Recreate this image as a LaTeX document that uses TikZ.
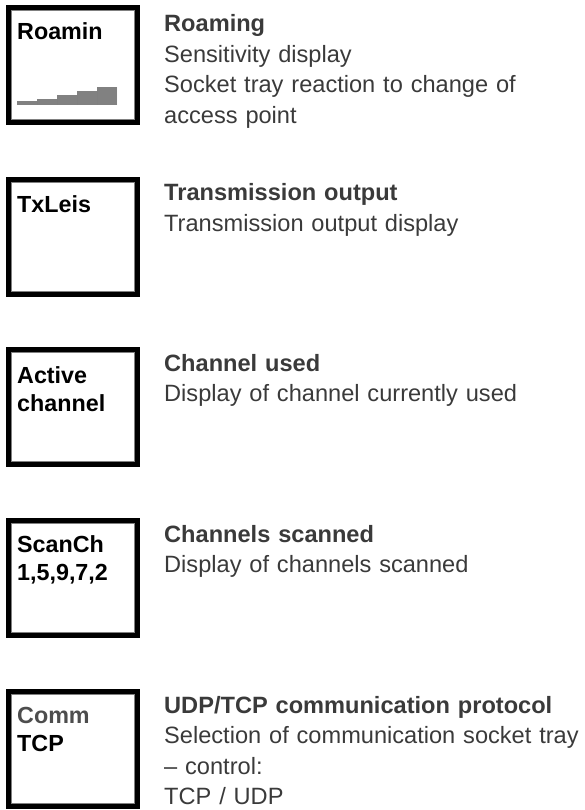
\documentclass[tikz,border=0pt]{standalone}
\usepackage{fontspec}
\setmainfont{Liberation Sans}
\usetikzlibrary{calc,patterns.meta}
\definecolor{textgray}{HTML}{3A3A3A}
\definecolor{commgray}{HTML}{4D4D4D}
\tikzstyle{screen} = [draw, line width=5pt, minimum width=129pt, minimum height=115pt, inner sep=0pt, outer sep=0pt]
\tikzstyle{rim} = [draw=gray, line width=1pt]
\tikzstyle{screentext} = [anchor=base west, inner sep=0pt, text width=115pt, align=left, font=\bfseries\fontsize{23.3}{28}\selectfont]
\tikzstyle{info} = [anchor=base west, inner sep=0pt, text width=440pt, align=left, text=textgray, font=\fontsize{23.6}{30.5}\selectfont]
\tikzstyle{bars} = [pattern={Dots[distance=2pt,radius=0.85pt]}]

\begin{document}
\begin{tikzpicture}[x=1pt,y=-1pt]
    \useasboundingbox (0,0) rectangle (584,810);
    % display boxes
    \draw (73,65) node[screen] (roam) {};
    \draw (73,237) node[screen] (txleis) {};
    \draw (73,407) node[screen] (active) {};
    \draw (73,578) node[screen] (scanch) {};
    \draw (73,749) node[screen] (comm) {};
    \foreach \b in {roam,txleis,active,scanch,comm}
        \draw [rim] ($(\b.south west)+(3,-3)$) rectangle ($(\b.north east)+(-3,3)$);
    % what each display shows
    \node[screentext] (roam-lbl) at (17,40) {Roamin};
    \node[screentext] (txleis-lbl) at (17,212) {TxLeis};
    \node[screentext] (active-lbl) at (17,383) {Active\\channel};
    \node[screentext] (scanch-lbl) at (17,552) {ScanCh\\1,5,9,7,2};
    \node[screentext] (comm-lbl) at (17,723) {\textcolor{commgray}{Comm}\\TCP};
    % signal strength steps
    \foreach \xa/\ytop in {17/102, 37/99, 57/95, 77/91, 97/88}
        \fill [bars] (\xa,105) rectangle (\xa+20,\ytop);
    % descriptions
    \node[info] (roam-info) at (164,32) {\textbf{Roaming}\\Sensitivity display\\Socket tray reaction to change of\\access point};
    \node[info] (txleis-info) at (164,201) {\textbf{Transmission output}\\Transmission output display};
    \node[info] (active-info) at (164,371) {\textbf{Channel used}\\Display of channel currently used};
    \node[info] (scanch-info) at (164,542) {\textbf{Channels scanned}\\Display of channels scanned};
    \node[info] (comm-info) at (164,713) {\textbf{UDP/TCP communication protocol}\\Selection of communication socket tray\\– control:\\TCP / UDP};
\end{tikzpicture}
\end{document}
